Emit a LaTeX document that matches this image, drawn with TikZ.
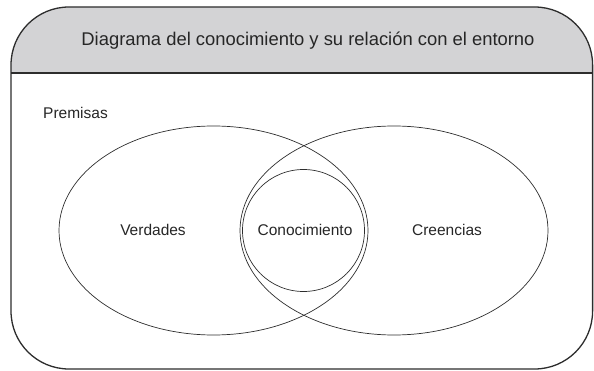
\documentclass[tikz,border=0pt]{standalone}
\usepackage{fontspec}
\setmainfont{Liberation Sans}
\usetikzlibrary{shapes.geometric}
\definecolor{headergray}{RGB}{211,211,213}
\definecolor{linegray}{RGB}{45,45,45}
\tikzset{
  set/.style={draw=linegray, line width=0.7pt, ellipse, inner sep=0pt},
  lbl/.style={font=\fontsize{15.5}{18}\selectfont, text=black!85, inner sep=0pt},
}
\begin{document}
\begin{tikzpicture}[x=1pt,y=-1pt]
\useasboundingbox (0,0) rectangle (594,371);
% header fill
\begin{scope}
  \clip (0,0) rectangle (594,73);
  \fill[headergray, rounded corners=58pt] (11,7) rectangle (592.6,369);
\end{scope}
\draw[linegray, line width=1.6pt] (11,73) -- (592.6,73);
\draw[linegray, line width=1.3pt, rounded corners=58pt] (11,7) rectangle (592.6,369);
\node[lbl, font=\fontsize{18.4}{22}\selectfont] (title) at (308,41) {Diagrama del conocimiento y su relación con el entorno};
\node[lbl, anchor=west] (prem) at (43,113) {Premisas};
% sets
\node[set, minimum width=309pt, minimum height=209pt] (ver) at (213.5,230.5) {};
\node[set, minimum width=308pt, minimum height=209pt] (cre) at (394,230.5) {};
\node[set, circle, minimum size=122pt] (con) at (303.5,230.5) {};
\node[lbl] (verl) at (153,230) {Verdades};
\node[lbl] (crel) at (447,230) {Creencias};
\node[lbl] (conl) at (305,230) {Conocimiento};
\end{tikzpicture}
\end{document}
